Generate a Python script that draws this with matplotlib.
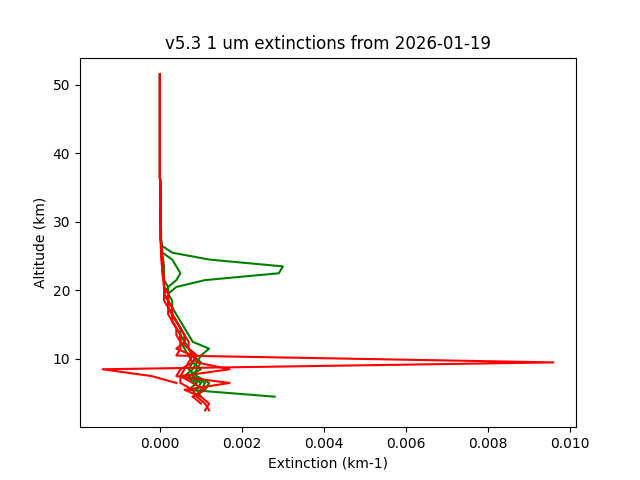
import numpy as np
import matplotlib
matplotlib.use("Agg")
import matplotlib.pyplot as plt

nan = np.nan
alt = [2.5 + i for i in range(50)]
tail = [0.00002, 0.00001, 0.00001, 0.00001, 0.0, 0.0, 0.0, 0.0, 0.0, 0.0,
        0.0, 0.0, 0.0, 0.0, 0.0, 0.0, 0.0, 0.0, 0.0, 0.0]

green1 = [nan, nan, 0.0009, 0.0010, 0.0011, 0.0008, 0.0009, 0.0010, 0.0008, 0.0007,
          0.0006, 0.0005, 0.0005, 0.0004, 0.0003, 0.0003, 0.0002, 0.0002, 0.0004, 0.0011,
          0.0029, 0.0030, 0.0012, 0.0003, 0.00005, 0.00003, 0.00003, 0.00002, 0.00002, 0.00002]
green2 = [nan, nan, 0.0028, 0.0007, 0.0009, 0.0006, 0.0008, 0.0009, 0.0010, 0.0012,
          0.0008, 0.0007, 0.0006, 0.0005, 0.0004, 0.0003, 0.0003, 0.0002, 0.0002, 0.0001,
          0.0001, 0.0001, 0.00008, 0.00005, 0.00003, 0.00002, 0.00002, 0.00002, 0.00001, 0.00001]
green3 = [nan, nan, 0.0008, 0.0011, 0.0012, 0.0009, 0.0007, 0.0008, 0.0009, 0.0007,
          0.0006, 0.0006, 0.0005, 0.0004, 0.0003, 0.0002, 0.0002, 0.0001, 0.0002, 0.0004,
          0.0005, 0.0004, 0.0003, 0.00006, 0.00004, 0.00002, 0.00002, 0.00001, 0.00001, 0.00001]
green4 = [nan, nan, 0.0010, 0.0009, 0.0010, 0.0007, 0.0010, 0.0008, 0.0007, 0.0006,
          0.0005, 0.0005, 0.0004, 0.0003, 0.0003, 0.0002, 0.0002, 0.0001, 0.0001, 0.0001,
          0.00008, 0.00006, 0.00005, 0.00004, 0.00003, 0.00002, 0.00002, 0.00001, 0.00001, 0.00001]
red1 = [nan, nan, nan, nan, 0.0004, -0.0002, -0.0014, 0.0096, 0.0004, 0.0005,
        0.0005, 0.0004, 0.0004, 0.0003, 0.0002, 0.0002, 0.0001, 0.0001, 0.0001, 0.00008,
        0.00006, 0.00005, 0.00004, 0.00003, 0.00002, 0.00002, 0.00002, 0.00001, 0.00001, 0.00001]
red2 = [0.0012, 0.0011, 0.0009, 0.0008, 0.0005, 0.0005, 0.0017, 0.0009, 0.0008, 0.0004,
        0.0006, 0.0006, 0.0005, 0.0004, 0.0003, 0.0003, 0.0002, 0.0002, 0.0001, 0.0001,
        0.00008, 0.00006, 0.00005, 0.00004, 0.00003, 0.00002, 0.00002, 0.00001, 0.00001, 0.00001]
red3 = [0.0011, 0.0012, 0.0010, 0.0006, 0.0017, 0.0004, 0.0005, 0.0008, 0.0009, 0.0007,
        0.0007, 0.0006, 0.0005, 0.0004, 0.0003, 0.0002, 0.0002, 0.0002, 0.0001, 0.0001,
        0.00008, 0.00006, 0.00005, 0.00004, 0.00003, 0.00002, 0.00002, 0.00001, 0.00001, 0.00001]
red4 = [nan, 0.0010, 0.0008, 0.0011, 0.0008, 0.0005, 0.0006, 0.0007, 0.0008, 0.0007,
        0.0005, 0.0005, 0.0004, 0.0003, 0.0003, 0.0002, 0.0002, 0.0001, 0.0001, 0.0001,
        0.00007, 0.00005, 0.00004, 0.00003, 0.00003, 0.00002, 0.00002, 0.00001, 0.00001, 0.00001]

fig, ax = plt.subplots(figsize=(6.4, 4.8), dpi=100)
for s in [green1, green2, green3, green4]:
    ax.plot(s + tail, alt, color="green")
for s in [red1, red2, red3, red4]:
    ax.plot(s + tail, alt, color="red")
ax.set_title("v5.3 1 um extinctions from 2026-01-19")
ax.set_xlabel("Extinction (km-1)")
ax.set_ylabel("Altitude (km)")
fig.savefig("out.png")
